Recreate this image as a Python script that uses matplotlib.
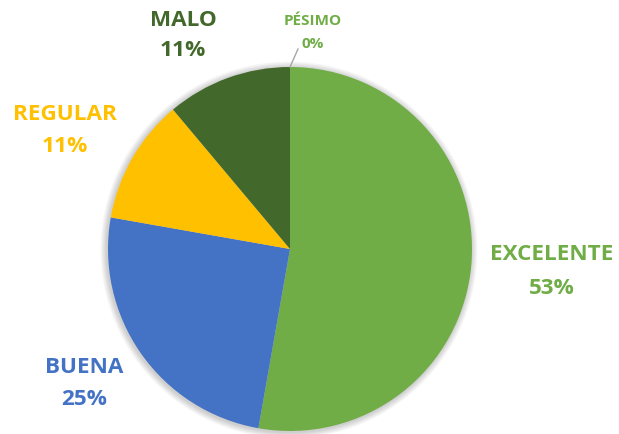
import matplotlib.pyplot as plt
from matplotlib.patches import Circle

categories = ['EXCELENTE', 'BUENA', 'REGULAR', 'MALO', 'PÉSIMO']
counts = [19, 9, 4, 4, 0]
colors = ['#70AD47', '#4472C4', '#FFC000', '#43682B', '#70AD47']

plt.rcParams['font.family'] = ['Open Sans', 'DejaVu Sans']

fig = plt.figure(figsize=(6.19, 4.35), dpi=100)
ax = fig.add_axes([0, 0, 1, 1])

cx, cy, r = 290, 185, 182

# soft shadow
for i in range(8):
    ax.add_patch(Circle((cx - 1, cy - 1), r + 1 + i * 0.8, color='black',
                        alpha=0.025, lw=0, zorder=0))

wedges, _ = ax.pie(counts, colors=colors, startangle=90, counterclock=False,
                   center=(cx, cy), radius=r, frame=True,
                   wedgeprops=dict(linewidth=0, zorder=2))
ax.set_xlim(0, 619)
ax.set_ylim(0, 435)
ax.set_aspect('equal')
ax.axis('off')

total = sum(counts)
pcts = [round(c / total * 100) for c in counts]

# label positions (x, name y, pct y) in pixels from the top
label_pos = [(552, 255, 288), (84, 368, 400), (65, 115, 147), (183, 20, 51), (313, 21, 44)]
label_size = [16.2, 16.2, 16.2, 16.2, 11]

for cat, p, col, (x, y1, y2), fs in zip(categories, pcts, colors, label_pos, label_size):
    ax.text(x, 435 - y1, cat, color=col, fontsize=fs, fontweight='bold',
            ha='center', va='center')
    ax.text(x, 435 - y2, f'{p}%', color=col, fontsize=fs,
            fontweight='bold', ha='center', va='center')

# leader line for the empty slice
ax.plot([290, 298], [435 - 68, 435 - 50], color='#A6A6A6', lw=1, zorder=3)

fig.savefig('out.png', dpi=100)
